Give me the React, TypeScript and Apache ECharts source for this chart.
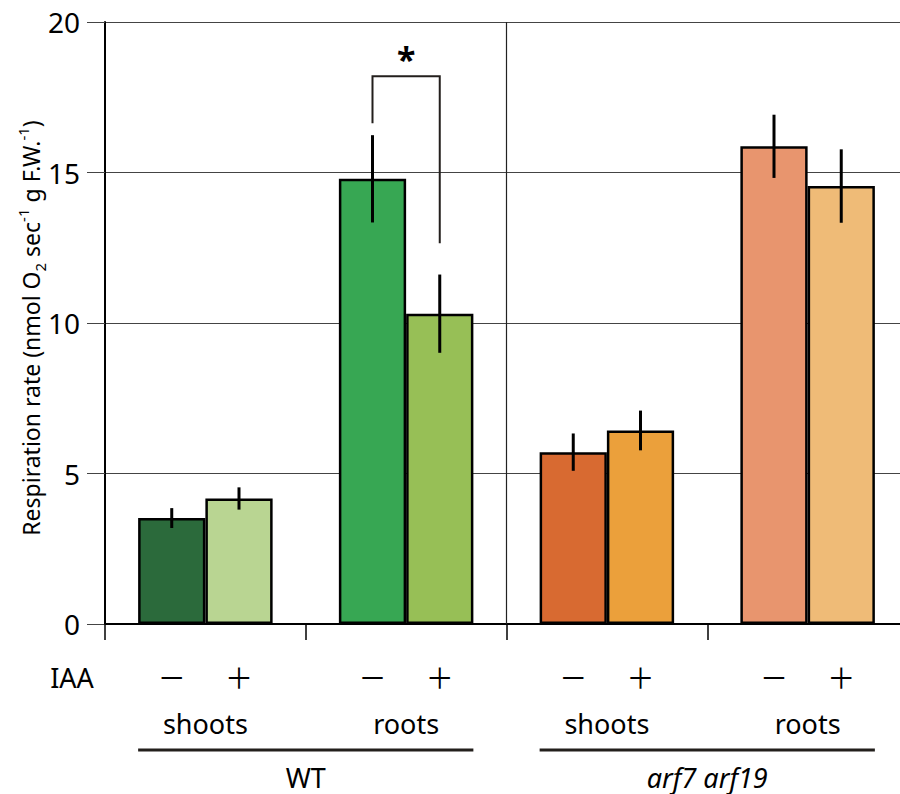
import React, { useEffect, useRef } from 'react';
import * as echarts from 'echarts';

// Respiration rate of shoots and roots, with (+) or without (−) IAA
const genotypes = ['WT', 'arf7 arf19'];
const categoryKeys = ['WT-shoots', 'WT-roots', 'arf-shoots', 'arf-roots'];
const tissues = ['shoots', 'roots', 'shoots', 'roots'];
const genotypeRanges = [[0, 1], [2, 3]];
const treatments = ['－', '＋'];

const minusIAA = [3.52, 14.79, 5.71, 15.87];
const plusIAA = [4.17, 10.31, 6.43, 14.55];
const minusErr = [0.33, 1.45, 0.62, 1.05];
const plusErr = [0.37, 1.3, 0.66, 1.22];

const minusColors = ['#2b6a3b', '#37a753', '#d86a31', '#e8956e'];
const plusColors = ['#b9d592', '#97bf56', '#eba03b', '#efbb77'];

const yMin = 0;
const yMax = 20;
const yStep = 5;

// significance bracket: [category, top, left leg end, right leg end]
const bracket = [1, 18.2, 16.64, 12.65];
const bracketMark = '*';

const BAR_FRAC = 0.335;
const FONT = '"Noto Sans", "Open Sans", sans-serif';

export default function App() {
  const ref = useRef<HTMLDivElement>(null);

  useEffect(() => {
    if (!ref.current) return;
    const chart = echarts.init(ref.current, null, { renderer: 'svg' });

    const barX = (api: any, cat: number, side: number) => {
      const band = api.size([1, 0])[0];
      return api.coord([cat, 0])[0] + (side === 0 ? -1 : 1) * (band * BAR_FRAC) / 2;
    };

    const errData: number[][] = [];
    categoryKeys.forEach((_, i) => {
      errData.push([i, 0, minusIAA[i] - minusErr[i], minusIAA[i] + minusErr[i]]);
      errData.push([i, 1, plusIAA[i] - plusErr[i], plusIAA[i] + plusErr[i]]);
    });

    const treatmentData: number[][] = [];
    categoryKeys.forEach((_, i) => {
      treatmentData.push([i, 0, 0]);
      treatmentData.push([i, 1, 0]);
    });

    const option: any = {
      animation: false,
      backgroundColor: '#fff',
      grid: { left: 105, right: 0, top: 22, bottom: 170 },
      xAxis: {
        type: 'category',
        data: categoryKeys,
        axisLine: { lineStyle: { color: '#000', width: 2 } },
        axisTick: { show: true, length: 16, interval: 0, lineStyle: { color: '#000', width: 1.5 } },
        axisLabel: {
          interval: 0,
          margin: 84,
          color: '#000',
          fontSize: 27,
          lineHeight: 30,
          fontFamily: FONT,
          formatter: (_v: string, idx: number) => tissues[idx],
        },
        splitLine: { show: false },
      },
      yAxis: {
        type: 'value',
        min: yMin,
        max: yMax,
        interval: yStep,
        axisLine: { show: true, lineStyle: { color: '#000', width: 2 } },
        axisTick: { show: true, length: 18, lineStyle: { color: '#444', width: 1 } },
        axisLabel: { margin: 25, color: '#000', fontSize: 28, fontFamily: FONT },
        splitLine: { show: true, lineStyle: { color: '#444', width: 1 } },
      },
      graphic: [
        {
          type: 'text',
          x: 31,
          y: 328,
          rotation: Math.PI / 2,
          style: {
            text: '{b|Respiration rate (nmol O}{sub|2}{b| sec}{sup|-1}{b| g F.W.}{sup|-1}{b|)}',
            align: 'center',
            verticalAlign: 'middle',
            fill: '#000',
            font: `23px ${FONT}`,
            rich: {
              b: { fontSize: 23, lineHeight: 32, fontFamily: FONT, fill: '#000' },
              sub: { fontSize: 15, lineHeight: 16, verticalAlign: 'bottom', fontFamily: FONT, fill: '#000' },
              sup: { fontSize: 15, lineHeight: 16, verticalAlign: 'top', fontFamily: FONT, fill: '#000' },
            },
          },
        },
        {
          type: 'text',
          x: 72,
          y: 677,
          style: {
            text: 'IAA',
            align: 'center',
            verticalAlign: 'middle',
            fill: '#000',
            fontSize: 27,
            fontFamily: FONT,
          },
        },
      ],
      series: [
        {
          name: '− IAA',
          type: 'bar',
          barWidth: `${BAR_FRAC * 100}%`,
          barGap: '0%',
          data: minusIAA.map((v, i) => ({
            value: v,
            itemStyle: { color: minusColors[i] },
          })),
          itemStyle: { borderColor: '#000', borderWidth: 2.5 },
          z: 2,
        },
        {
          name: '+ IAA',
          type: 'bar',
          barWidth: `${BAR_FRAC * 100}%`,
          barGap: '0%',
          data: plusIAA.map((v, i) => ({
            value: v,
            itemStyle: { color: plusColors[i] },
          })),
          itemStyle: { borderColor: '#000', borderWidth: 2.5 },
          z: 2,
        },
        {
          // error bars
          type: 'custom',
          data: errData,
          encode: { x: 0, y: [2, 3] },
          z: 5,
          renderItem: (_p: any, api: any) => {
            const cat = api.value(0);
            const side = api.value(1);
            const x = barX(api, cat, side);
            const lo = api.coord([cat, api.value(2)])[1];
            const hi = api.coord([cat, api.value(3)])[1];
            return {
              type: 'line',
              shape: { x1: x, y1: lo, x2: x, y2: hi },
              style: { stroke: '#000', lineWidth: 3 },
            };
          },
        },
        {
          // significance bracket
          type: 'custom',
          data: [bracket],
          encode: { x: 0, y: 1 },
          z: 5,
          renderItem: (_p: any, api: any) => {
            const cat = api.value(0);
            const xl = barX(api, cat, 0);
            const xr = barX(api, cat, 1);
            const yt = api.coord([cat, api.value(1)])[1];
            const yl = api.coord([cat, api.value(2)])[1];
            const yr = api.coord([cat, api.value(3)])[1];
            return {
              type: 'group',
              children: [
                {
                  type: 'polyline',
                  shape: { points: [[xl, yl], [xl, yt], [xr, yt], [xr, yr]] },
                  style: { stroke: '#231f1c', lineWidth: 2, fill: 'none' },
                },
                {
                  type: 'text',
                  x: (xl + xr) / 2,
                  y: yt - 17,
                  style: {
                    text: bracketMark,
                    align: 'center',
                    verticalAlign: 'middle',
                    fontSize: 34,
                    fontWeight: 'bold',
                    fontFamily: FONT,
                    fill: '#000',
                  },
                },
              ],
            };
          },
        },
        {
          // divider between genotypes
          type: 'custom',
          data: [[1, yMin]],
          encode: { x: 0, y: 1 },
          z: 1,
          renderItem: (_p: any, api: any) => {
            const cat = api.value(0);
            const band = api.size([1, 0])[0];
            const x = api.coord([cat, yMin])[0] + band / 2;
            const y0 = api.coord([cat, yMin])[1];
            const y1 = api.coord([cat, yMax])[1];
            return {
              type: 'line',
              shape: { x1: x, y1: y0, x2: x, y2: y1 },
              style: { stroke: '#222', lineWidth: 1.2 },
            };
          },
        },
        {
          // IAA treatment marks under each bar
          type: 'custom',
          data: treatmentData,
          encode: { x: 0, y: 2 },
          z: 5,
          renderItem: (_p: any, api: any) => {
            const cat = api.value(0);
            const side = api.value(1);
            const x = barX(api, cat, side);
            const y = api.coord([cat, yMin])[1] + 53;
            return {
              type: 'text',
              x,
              y,
              style: {
                text: treatments[side],
                align: 'center',
                verticalAlign: 'middle',
                fontSize: 28,
                fontFamily: '"Noto Sans CJK SC", sans-serif',
                fill: '#000',
              },
            };
          },
        },
        {
          // genotype underline and name
          type: 'custom',
          data: genotypeRanges.map((r, g) => [r[0], r[1], g, yMin]),
          encode: { x: [0, 1], y: 3 },
          z: 5,
          renderItem: (_p: any, api: any) => {
            const c0 = api.value(0);
            const c1 = api.value(1);
            const g = api.value(2);
            const band = api.size([1, 0])[0];
            const x0 = api.coord([c0, yMin])[0] - band * BAR_FRAC;
            const x1 = api.coord([c1, yMin])[0] + band * BAR_FRAC;
            const base = api.coord([c0, yMin])[1];
            return {
              type: 'group',
              children: [
                {
                  type: 'line',
                  shape: { x1: x0, y1: base + 126, x2: x1, y2: base + 126 },
                  style: { stroke: '#231f1c', lineWidth: 3 },
                },
                {
                  type: 'text',
                  x: (x0 + x1) / 2,
                  y: base + 153,
                  style: {
                    text: genotypes[g],
                    align: 'center',
                    verticalAlign: 'middle',
                    fontSize: 27,
                    fontStyle: g === 1 ? 'italic' : 'normal',
                    fontFamily: FONT,
                    fill: '#000',
                  },
                },
              ],
            };
          },
        },
      ],
    };

    chart.setOption(option);
    return () => chart.dispose();
  }, []);

  // the plotting area runs a little past the right edge of the 900px frame
  return (
    <div
      style={{
        position: 'absolute',
        left: 0,
        top: 0,
        width: 900,
        height: 794,
        overflow: 'hidden',
        background: '#fff',
      }}
    >
      <div ref={ref} style={{ width: 908, height: 794 }} />
    </div>
  );
}
